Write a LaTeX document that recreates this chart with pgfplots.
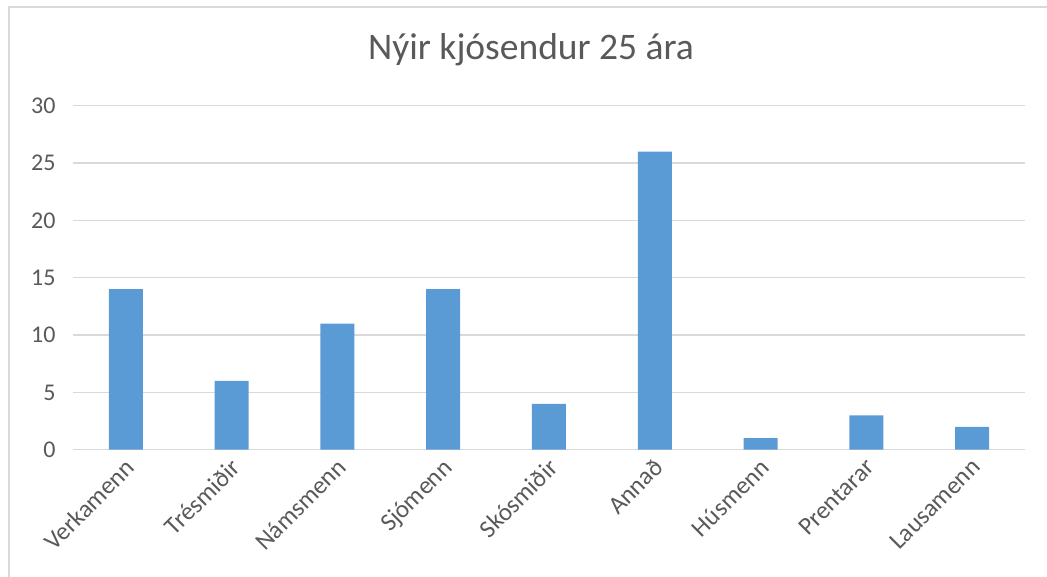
\documentclass[border=0pt]{standalone}
\usepackage{pgfplots}
\pgfplotsset{compat=1.18}
\usepackage{fontspec}
\setmainfont{Carlito}
\definecolor{barblue}{HTML}{5B9BD5}
\definecolor{gridgray}{HTML}{D9D9D9}
\definecolor{txtgray}{HTML}{595959}
\begin{document}
\begin{tikzpicture}[x=1pt,y=1pt]
\useasboundingbox (0,0) rectangle (1047,577);
\draw[gridgray, line width=1.2pt] (9,-20) rectangle (1070,570);
\node[txtgray, font=\fontsize{37.5}{42}\selectfont] at (531,527) {Nýir kjósendur 25 ára};
\begin{axis}[
  at={(69,111)}, anchor=south west,
  scale only axis, width=952pt, height=344pt,
  xmin=-0.5, xmax=8.5, ymin=0, ymax=30,
  ytick={0,5,...,30},
  xtick={0,...,8},
  xticklabels={Verkamenn,Trésmiðir,Námsmenn,Sjómenn,Skósmiðir,Annað,Húsmenn,Prentarar,Lausamenn},
  x tick label style={rotate=45, anchor=north east, font=\fontsize{25}{28}\selectfont, text=txtgray, inner sep=2pt},
  y tick label style={font=\fontsize{24}{28}\selectfont, text=txtgray},
  /pgf/number format/assume math mode=true,
  ymajorgrids, grid style={gridgray, line width=1.2pt},
  axis line style={draw=none},
  axis x line*=bottom,
  x axis line style={draw=gridgray, line width=1.5pt},
  major tick length=0pt,
  yticklabel style={xshift=-14pt},
  xticklabel style={xshift=-4.6pt, yshift=-1.8pt},
  ybar, bar width=34pt,
]
\addplot[fill=barblue, draw=none] coordinates {(0,14) (1,6) (2,11) (3,14) (4,4) (5,26) (6,1) (7,3) (8,2)};
\end{axis}
\end{tikzpicture}
\end{document}
